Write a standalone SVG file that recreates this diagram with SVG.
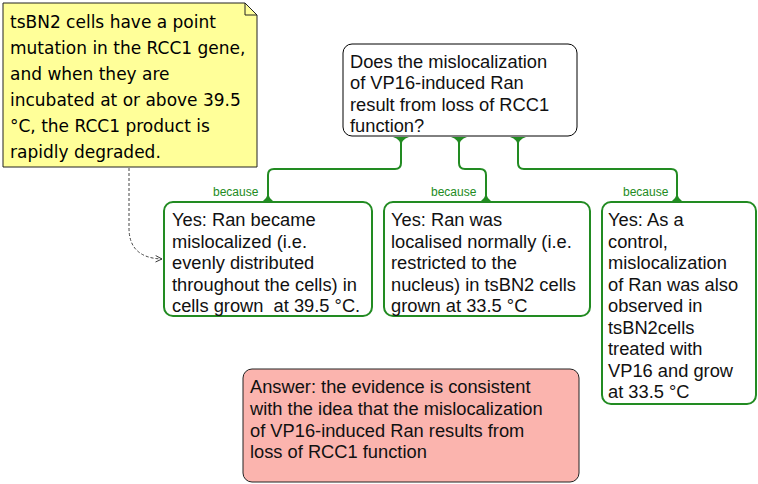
<svg xmlns="http://www.w3.org/2000/svg" width="758" height="484" viewBox="0 0 758 484">
<defs>
<style>
.box{fill:#fff;stroke:#000;stroke-width:1}
.gbox{fill:#fff;stroke:#228b22;stroke-width:2}
.t{font-family:"Liberation Sans",Arial,sans-serif;font-size:18.3px;fill:#111}
.note{font-family:"DejaVu Sans",sans-serif;font-size:17px;fill:#000}
.lab{font-family:"Liberation Sans",Arial,sans-serif;font-size:12px;fill:#228b22}
.con{fill:none;stroke:#228b22;stroke-width:2}
.flare{fill:#228b22}
</style>
<marker id="open" viewBox="0 0 10 10" refX="9" refY="5" markerWidth="8" markerHeight="8" orient="auto" markerUnits="userSpaceOnUse">
<path d="M1,1 L9,5 L1,9" fill="none" stroke="#333" stroke-width="1.2"/>
</marker>
</defs>
<rect width="758" height="484" fill="#fff"/>
<g id="note">
<path d="M3,3 H245 L257,15 V167 H3 Z" fill="#ffff99" stroke="#222" stroke-width="1"/>
<path d="M245,3 V15 H257" fill="none" stroke="#222" stroke-width="1"/>
<text class="note" x="10" y="28">tsBN2 cells have a point</text>
<text class="note" x="10" y="54">mutation in the RCC1 gene,</text>
<text class="note" x="10" y="80">and when they are</text>
<text class="note" x="10" y="106">incubated at or above 39.5</text>
<text class="note" x="10" y="132">°C, the RCC1 product is</text>
<text class="note" x="10" y="158">rapidly degraded.</text>
</g>
<g id="question">
<rect class="box" x="343" y="44" width="234" height="92" rx="9"/>
<text class="t" x="350" y="68">Does the mislocalization</text>
<text class="t" x="350" y="89">of VP16-induced Ran</text>
<text class="t" x="350" y="111">result from loss of RCC1</text>
<text class="t" x="350" y="132">function?</text>
</g>
<g id="connectors">
<path class="con" d="M401,137 V163 Q401,169 395,169 H274 Q268,169 268,175 V201"/>
<path class="con" d="M459,137 V163 Q459,169 465,169 H480 Q486,169 486,175 V201"/>
<path class="con" d="M518,137 V163 Q518,169 524,169 H671 Q677,169 677,175 V201"/>
<path class="flare" d="M393,137 Q401,139 401,148 Q401,139 409,137 Z"/>
<path class="flare" d="M451,137 Q459,139 459,148 Q459,139 467,137 Z"/>
<path class="flare" d="M510,137 Q518,139 518,148 Q518,139 526,137 Z"/>
<path class="flare" d="M260,202 Q268,200 268,190 Q268,200 276,202 Z"/>
<path class="flare" d="M478,202 Q486,200 486,190 Q486,200 494,202 Z"/>
<path class="flare" d="M669,202 Q677,200 677,190 Q677,200 685,202 Z"/>
<text class="lab" x="213" y="196">because</text>
<text class="lab" x="431" y="196">because</text>
<text class="lab" x="623" y="196">because</text>
<path d="M129,168 V228 Q129,258 162,259" fill="none" stroke="#444" stroke-width="1" stroke-dasharray="3,2" marker-end="url(#open)"/>
</g>
<g id="yes1">
<rect class="gbox" x="164" y="202" width="208" height="114" rx="9"/>
<text class="t" x="172" y="226">Yes: Ran became</text>
<text class="t" x="172" y="247.5">mislocalized (i.e.</text>
<text class="t" x="172" y="269">evenly distributed</text>
<text class="t" x="172" y="290.5">throughout the cells) in</text>
<text class="t" x="172" y="312" xml:space="preserve">cells grown  at 39.5 °C.</text>
</g>
<g id="yes2">
<rect class="gbox" x="384" y="202" width="206" height="114" rx="9"/>
<text class="t" x="391" y="226">Yes: Ran was</text>
<text class="t" x="391" y="247.5">localised normally (i.e.</text>
<text class="t" x="391" y="269">restricted to the</text>
<text class="t" x="391" y="290.5">nucleus) in tsBN2 cells</text>
<text class="t" x="391" y="312">grown at 33.5 °C</text>
</g>
<g id="yes3">
<rect class="gbox" x="602" y="202" width="154" height="202" rx="9"/>
<text class="t" x="608" y="226">Yes: As a</text>
<text class="t" x="608" y="247.5">control,</text>
<text class="t" x="608" y="269">mislocalization</text>
<text class="t" x="608" y="290.5">of Ran was also</text>
<text class="t" x="608" y="312">observed in</text>
<text class="t" x="608" y="333.5">tsBN2cells</text>
<text class="t" x="608" y="355">treated with</text>
<text class="t" x="608" y="376.5">VP16 and grow</text>
<text class="t" x="608" y="398">at 33.5 °C</text>
</g>
<g id="answer">
<rect x="243" y="369" width="336" height="113" rx="9" fill="#fbb4ae" stroke="#222" stroke-width="1"/>
<text class="t" x="250" y="393">Answer: the evidence is consistent</text>
<text class="t" x="250" y="415">with the idea that the mislocalization</text>
<text class="t" x="250" y="437">of VP16-induced Ran results from</text>
<text class="t" x="250" y="458">loss of RCC1 function</text>
</g>
</svg>
